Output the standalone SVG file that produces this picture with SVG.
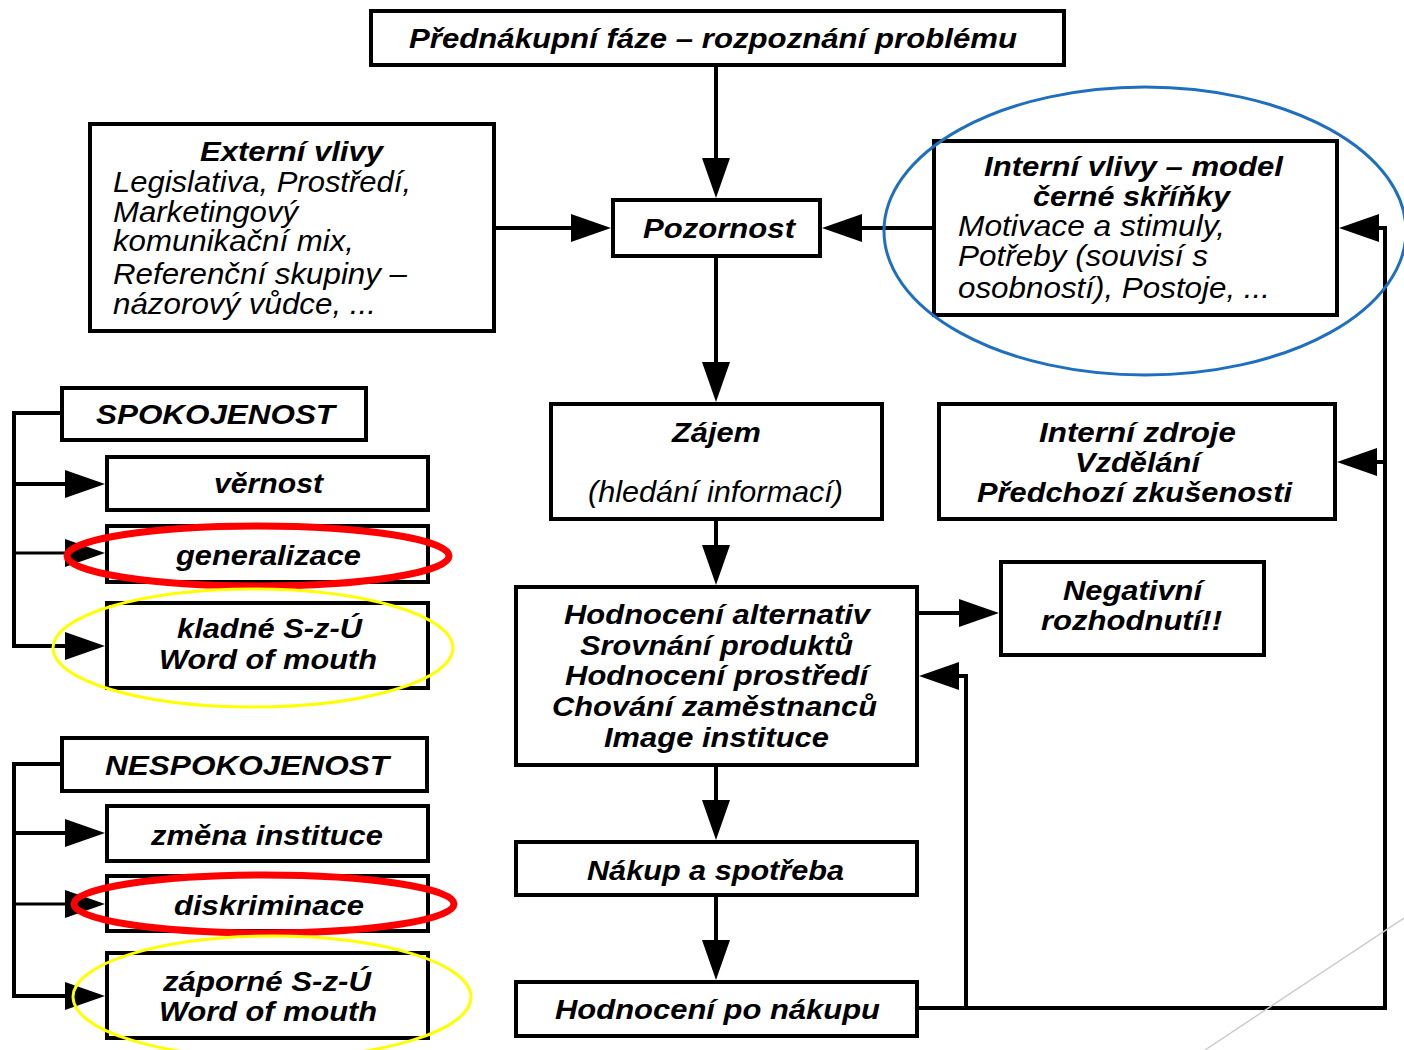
<svg xmlns="http://www.w3.org/2000/svg" width="1404" height="1050" viewBox="0 0 1404 1050">
<style>
.box{fill:#fff;stroke:#000;stroke-width:4}
text{font-family:"Liberation Sans",Arial,sans-serif;fill:#000;font-style:italic}
.b{font-weight:bold;font-size:27px;text-anchor:middle}
.bl{font-weight:bold;font-size:27px}
.i{font-weight:normal;font-size:29px}
.im{font-weight:normal;font-size:29px;text-anchor:middle}
.c{fill:none;stroke:#000;stroke-width:4}
.ct{fill:none;stroke:#000;stroke-width:3}
.red{fill:none;stroke:#ff0000;stroke-width:7}
.yel{fill:none;stroke:#ffff00;stroke-width:3}
.blue{fill:none;stroke:#1f6fbf;stroke-width:3}
</style>
<defs>
<marker id="ah" markerUnits="userSpaceOnUse" markerWidth="40" markerHeight="28" viewBox="0 0 40 28" refX="30" refY="14" orient="auto">
<path d="M0,0 L40,14 L0,28 Z" fill="#000"/>
</marker>
</defs>
<rect width="1404" height="1050" fill="#fff"/>

<g id="connectors">
<path class="c" d="M716,67 V188" marker-end="url(#ah)"/>
<path class="c" d="M496,228 H601" marker-end="url(#ah)"/>
<path class="c" d="M932,228 H832" marker-end="url(#ah)"/>
<path class="c" d="M716,258 V392" marker-end="url(#ah)"/>
<path class="c" d="M716,521 V575" marker-end="url(#ah)"/>
<path class="c" d="M919,613 H989" marker-end="url(#ah)"/>
<path class="c" d="M716,767 V830" marker-end="url(#ah)"/>
<path class="c" d="M716,897 V970" marker-end="url(#ah)"/>
<path class="c" d="M919,1008 H1385 V228 H1349" marker-end="url(#ah)"/>
<path class="c" d="M1385,462 H1347" marker-end="url(#ah)"/>
<path class="c" d="M966,1008 V676 H929" marker-end="url(#ah)"/>
<path class="c" d="M60,413 H14 V646 H95" marker-end="url(#ah)"/>
<path class="c" d="M14,484 H95" marker-end="url(#ah)"/>
<path class="ct" d="M14,553 H95" marker-end="url(#ah)"/>
<path class="c" d="M60,764 H14 V996 H95" marker-end="url(#ah)"/>
<path class="c" d="M14,833 H95" marker-end="url(#ah)"/>
<path class="ct" d="M14,904 H95" marker-end="url(#ah)"/>
</g>

<g id="n-title">
<rect class="box" x="371" y="11" width="693" height="54"/>
<text class="b" x="713" y="48" textLength="608" lengthAdjust="spacingAndGlyphs">Přednákupní fáze – rozpoznání problému</text>
</g>

<g id="n-externi">
<rect class="box" x="90" y="124" width="404" height="207"/>
<text class="b" x="291.5" y="161" textLength="183" lengthAdjust="spacingAndGlyphs">Externí vlivy</text>
<text class="i" x="113" y="192" textLength="298" lengthAdjust="spacingAndGlyphs">Legislativa, Prostředí,</text>
<text class="i" x="113" y="222" textLength="185" lengthAdjust="spacingAndGlyphs">Marketingový</text>
<text class="i" x="113" y="251" textLength="241" lengthAdjust="spacingAndGlyphs">komunikační mix,</text>
<text class="i" x="113" y="284" textLength="294" lengthAdjust="spacingAndGlyphs">Referenční skupiny –</text>
<text class="i" x="113" y="314" textLength="263" lengthAdjust="spacingAndGlyphs">názorový vůdce, ...</text>
</g>

<g id="n-pozornost">
<rect class="box" x="613" y="200" width="207" height="56"/>
<text class="b" x="719" y="238" textLength="152" lengthAdjust="spacingAndGlyphs">Pozornost</text>
</g>

<g id="n-interni-vlivy">
<rect class="box" x="934" y="141" width="403" height="174"/>
<text class="b" x="1133.5" y="176" textLength="299" lengthAdjust="spacingAndGlyphs">Interní vlivy – model</text>
<text class="b" x="1131.5" y="206" textLength="197" lengthAdjust="spacingAndGlyphs">černé skříňky</text>
<text class="i" x="958" y="236" textLength="267" lengthAdjust="spacingAndGlyphs">Motivace a stimuly,</text>
<text class="i" x="958" y="266" textLength="250" lengthAdjust="spacingAndGlyphs">Potřeby (souvisí s</text>
<text class="i" x="958" y="298" textLength="312" lengthAdjust="spacingAndGlyphs">osobností), Postoje, ...</text>
</g>

<g id="n-interni-zdroje">
<rect class="box" x="939" y="404" width="396" height="115"/>
<text class="b" x="1137.5" y="442" textLength="197" lengthAdjust="spacingAndGlyphs">Interní zdroje</text>
<text class="b" x="1137.5" y="472" textLength="125" lengthAdjust="spacingAndGlyphs">Vzdělání</text>
<text class="b" x="1134.5" y="502" textLength="315" lengthAdjust="spacingAndGlyphs">Předchozí zkušenosti</text>
</g>

<g id="n-zajem">
<rect class="box" x="551" y="404" width="331" height="115"/>
<text class="b" x="716.5" y="442" textLength="89" lengthAdjust="spacingAndGlyphs">Zájem</text>
<text class="im" x="715.5" y="502" textLength="255" lengthAdjust="spacingAndGlyphs">(hledání informací)</text>
</g>

<g id="n-hodnoceni-alt">
<rect class="box" x="516" y="587" width="401" height="178"/>
<text class="b" x="717" y="624" textLength="306" lengthAdjust="spacingAndGlyphs">Hodnocení alternativ</text>
<text class="b" x="716.5" y="655" textLength="273" lengthAdjust="spacingAndGlyphs">Srovnání produktů</text>
<text class="b" x="716.5" y="685" textLength="303" lengthAdjust="spacingAndGlyphs">Hodnocení prostředí</text>
<text class="b" x="714.5" y="716" textLength="325" lengthAdjust="spacingAndGlyphs">Chování zaměstnanců</text>
<text class="b" x="716.5" y="747" textLength="225" lengthAdjust="spacingAndGlyphs">Image instituce</text>
</g>

<g id="n-negativni">
<rect class="box" x="1001" y="562" width="263" height="93"/>
<text class="b" x="1132.5" y="600" textLength="139" lengthAdjust="spacingAndGlyphs">Negativní</text>
<text class="b" x="1131.5" y="630" textLength="181" lengthAdjust="spacingAndGlyphs">rozhodnutí!!</text>
</g>

<g id="n-nakup">
<rect class="box" x="516" y="842" width="401" height="53"/>
<text class="b" x="715.5" y="880" textLength="257" lengthAdjust="spacingAndGlyphs">Nákup a spotřeba</text>
</g>

<g id="n-hodnoceni-po">
<rect class="box" x="516" y="982" width="401" height="54"/>
<text class="b" x="717.5" y="1019" textLength="325" lengthAdjust="spacingAndGlyphs">Hodnocení po nákupu</text>
</g>

<g id="n-spokojenost">
<rect class="box" x="62" y="388" width="304" height="52"/>
<text class="b" x="215.5" y="424" textLength="239" lengthAdjust="spacingAndGlyphs">SPOKOJENOST</text>
</g>
<g id="n-vernost">
<rect class="box" x="107" y="457" width="321" height="53"/>
<text class="b" x="268.5" y="493" textLength="109" lengthAdjust="spacingAndGlyphs">věrnost</text>
</g>
<g id="n-generalizace">
<rect class="box" x="107" y="526" width="321" height="56"/>
<text class="b" x="268.5" y="565" textLength="185" lengthAdjust="spacingAndGlyphs">generalizace</text>
</g>
<g id="n-kladne">
<rect class="box" x="107" y="603" width="321" height="85"/>
<text class="b" x="269.5" y="638" textLength="185" lengthAdjust="spacingAndGlyphs">kladné S-z-Ú</text>
<text class="b" x="268" y="669" textLength="218" lengthAdjust="spacingAndGlyphs">Word of mouth</text>
</g>

<g id="n-nespokojenost">
<rect class="box" x="62" y="738" width="365" height="53"/>
<text class="b" x="247" y="775" textLength="284" lengthAdjust="spacingAndGlyphs">NESPOKOJENOST</text>
</g>
<g id="n-zmena">
<rect class="box" x="107" y="806" width="321" height="55"/>
<text class="b" x="267" y="845" textLength="232" lengthAdjust="spacingAndGlyphs">změna instituce</text>
</g>
<g id="n-diskriminace">
<rect class="box" x="107" y="876" width="321" height="55"/>
<text class="b" x="269" y="915" textLength="190" lengthAdjust="spacingAndGlyphs">diskriminace</text>
</g>
<g id="n-zaporne">
<rect class="box" x="107" y="953" width="321" height="85"/>
<text class="b" x="267" y="991" textLength="208" lengthAdjust="spacingAndGlyphs">záporné S-z-Ú</text>
<text class="b" x="268" y="1021" textLength="218" lengthAdjust="spacingAndGlyphs">Word of mouth</text>
</g>

<g id="highlights">
<ellipse class="blue" cx="1145" cy="231" rx="261" ry="144"/>
<ellipse class="red" cx="258" cy="556" rx="191" ry="30"/>
<ellipse class="yel" cx="253" cy="648" rx="200" ry="59"/>
<ellipse class="red" cx="264" cy="904" rx="190" ry="29"/>
<ellipse class="yel" cx="272" cy="997" rx="199" ry="61"/>
</g>

<path d="M1404,918 L1205,1050" stroke="#cccccc" stroke-width="1.5" fill="none"/>
</svg>
